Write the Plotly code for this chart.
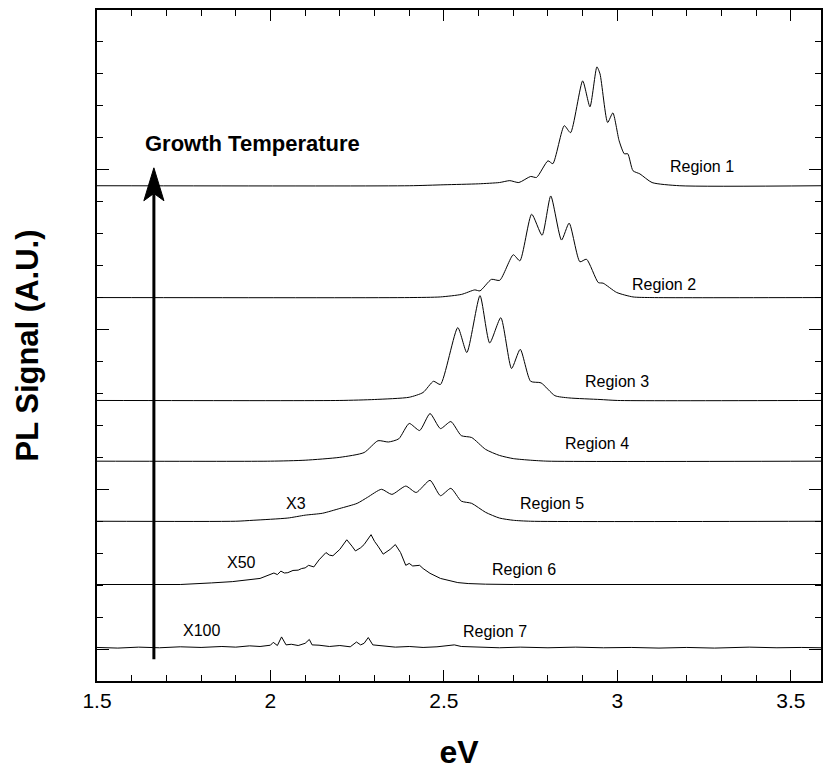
import plotly.graph_objects as go

# ---------------- data ----------------
# photon energy (eV) and PL signal above each trace's own baseline (arb. units)
r1_e = [1.50, 2.40, 2.50, 2.60, 2.66, 2.69, 2.716, 2.75, 2.767, 2.80, 2.814, 2.847, 2.865, 2.90, 2.921, 2.941, 2.95, 2.972, 2.987, 3.005, 3.02, 3.03, 3.045, 3.065, 3.10, 3.18, 3.587]
r1_s = [0.00, 0.00, 0.03, 0.06, 0.10, 0.16, 0.10, 0.29, 0.26, 0.78, 0.69, 1.88, 1.66, 3.28, 2.47, 3.72, 3.50, 1.98, 2.28, 1.41, 1.00, 1.00, 0.47, 0.37, 0.10, 0.00, 0.00]

r2_e = [1.50, 2.40, 2.49, 2.551, 2.589, 2.604, 2.637, 2.661, 2.70, 2.719, 2.753, 2.783, 2.808, 2.839, 2.861, 2.892, 2.911, 2.945, 2.959, 2.998, 3.045, 3.10, 3.587]
r2_s = [0.00, 0.00, 0.02, 0.10, 0.24, 0.21, 0.57, 0.54, 1.34, 1.15, 2.61, 1.95, 3.18, 1.80, 2.33, 1.12, 1.20, 0.47, 0.45, 0.16, 0.02, 0.00, 0.00]

r3_e = [1.50, 2.20, 2.30, 2.40, 2.44, 2.47, 2.49, 2.54, 2.566, 2.604, 2.632, 2.664, 2.695, 2.72, 2.75, 2.78, 2.82, 2.86, 2.95, 3.00, 3.587]
r3_s = [0.00, 0.00, 0.03, 0.10, 0.25, 0.60, 0.50, 2.28, 1.50, 3.28, 1.80, 2.59, 1.00, 1.60, 0.60, 0.55, 0.15, 0.08, 0.03, 0.00, 0.00]

r4_e = [1.50, 2.00, 2.10, 2.20, 2.27, 2.31, 2.34, 2.37, 2.40, 2.43, 2.46, 2.49, 2.52, 2.55, 2.58, 2.62, 2.66, 2.70, 2.75, 2.80, 3.587]
r4_s = [0.00, 0.00, 0.03, 0.12, 0.27, 0.64, 0.60, 0.70, 1.18, 0.96, 1.49, 1.02, 1.24, 0.80, 0.74, 0.37, 0.18, 0.08, 0.03, 0.00, 0.00]

r5_e = [1.50, 1.90, 1.95, 2.05, 2.10, 2.15, 2.20, 2.25, 2.28, 2.32, 2.35, 2.39, 2.42, 2.46, 2.49, 2.52, 2.55, 2.58, 2.62, 2.66, 2.70, 2.75, 3.587]
r5_s = [0.00, 0.00, 0.03, 0.10, 0.19, 0.25, 0.40, 0.56, 0.75, 1.00, 0.84, 1.10, 0.90, 1.28, 0.80, 1.03, 0.63, 0.56, 0.28, 0.10, 0.03, 0.00, 0.00]

r6_e = [1.50, 1.74, 1.83, 1.89, 1.97, 2.00, 2.01, 2.02, 2.03, 2.04, 2.05, 2.065, 2.08, 2.09, 2.10, 2.11, 2.125, 2.14, 2.16, 2.17, 2.18, 2.20, 2.22, 2.235, 2.245, 2.26, 2.27, 2.29, 2.30, 2.31, 2.325, 2.345, 2.36, 2.375, 2.39, 2.40, 2.41, 2.43, 2.44, 2.46, 2.49, 2.54, 2.57, 2.62, 2.70, 3.587]
r6_s = [0.00, 0.00, 0.05, 0.09, 0.19, 0.30, 0.36, 0.31, 0.42, 0.36, 0.37, 0.44, 0.45, 0.50, 0.52, 0.60, 0.55, 0.77, 1.00, 0.92, 0.90, 1.10, 1.40, 1.20, 1.05, 1.15, 1.25, 1.56, 1.35, 1.20, 0.95, 1.10, 1.25, 1.00, 0.60, 0.66, 0.58, 0.60, 0.50, 0.35, 0.19, 0.06, 0.03, 0.01, 0.00, 0.00]

r7_e = [1.50, 1.56, 1.62, 1.68, 1.74, 1.80, 1.86, 1.90, 1.94, 1.97, 2.00, 2.008, 2.02, 2.032, 2.045, 2.06, 2.08, 2.10, 2.112, 2.12, 2.14, 2.17, 2.20, 2.23, 2.248, 2.26, 2.27, 2.282, 2.295, 2.32, 2.36, 2.40, 2.44, 2.48, 2.517, 2.53, 2.55, 2.60, 2.66, 2.72, 2.80, 2.88, 2.96, 3.04, 3.12, 3.20, 3.28, 3.38, 3.46, 3.53, 3.587]
r7_s = [0.02, 0.00, 0.03, 0.01, 0.04, 0.02, 0.05, 0.03, 0.07, 0.05, 0.09, 0.18, 0.08, 0.35, 0.10, 0.12, 0.08, 0.15, 0.27, 0.10, 0.09, 0.05, 0.08, 0.04, 0.19, 0.10, 0.15, 0.33, 0.10, 0.07, 0.03, 0.05, 0.02, 0.04, 0.09, 0.10, 0.05, 0.03, 0.01, 0.03, 0.01, 0.03, 0.01, 0.02, 0.00, 0.02, 0.00, 0.03, 0.01, 0.02, 0.01]

region_names = ["Region 1", "Region 2", "Region 3", "Region 4", "Region 5", "Region 6", "Region 7"]
offsets = [15.5, 12.0, 8.78, 6.88, 5.0, 3.02, 1.03]
energies = [r1_e, r2_e, r3_e, r4_e, r5_e, r6_e, r7_e]
signals = [r1_s, r2_s, r3_s, r4_s, r5_s, r6_s, r7_s]

# label positions (eV, stacked signal)
label_x = [3.243, 3.133, 2.999, 2.94, 2.811, 2.730, 2.648]
label_y = [16.10, 12.42, 9.375, 7.447, 5.56, 3.49, 1.54]
scale_text = ["X3", "X50", "X100"]
scale_x = [2.073, 1.916, 1.802]
scale_y = [5.56, 3.72, 1.572]

x_ticks = [1.5, 2, 2.5, 3, 3.5]
x_tick_text = ["1.5", "2", "2.5", "3", "3.5"]

# growth-temperature arrow (eV position, bottom / tip of the arrow in signal units)
arrow_x = 1.664
arrow_bottom = 0.68
arrow_tip = 16.06

# ---------------- figure ----------------
fig = go.Figure()
for i, name in enumerate(region_names):
    smooth = i < 5
    fig.add_trace(go.Scatter(
        x=energies[i],
        y=[s + offsets[i] for s in signals[i]],
        mode="lines",
        name=name,
        line=dict(color="black", width=1, shape="spline" if smooth else "linear",
                  smoothing=0.6 if smooth else None),
        showlegend=False,
        hoverinfo="skip",
    ))

annos = []
for t, x, y in zip(region_names, label_x, label_y):
    annos.append(dict(x=x, y=y, text=t, showarrow=False,
                      font=dict(family="Arial", size=16, color="black")))
for t, x, y in zip(scale_text, scale_x, scale_y):
    annos.append(dict(x=x, y=y, text=t, showarrow=False,
                      font=dict(family="Arial", size=16, color="black")))
annos.append(dict(x=1.6326, y=16.81, text="<b>Growth Temperature</b>", showarrow=False,
                  xanchor="left", font=dict(family="Arial", size=22, color="black")))

# arrow: shaft + slim notched head
hw = 0.029   # half width of head in eV
shapes = [
    dict(type="line", xref="x", yref="y", x0=arrow_x, x1=arrow_x,
         y0=arrow_bottom, y1=arrow_tip - 0.8, line=dict(color="black", width=3)),
    dict(type="path", xref="x", yref="y",
         path=(f"M {arrow_x},{arrow_tip} L {arrow_x + hw},{arrow_tip - 1.03} "
               f"L {arrow_x},{arrow_tip - 0.8} L {arrow_x - hw},{arrow_tip - 1.03} Z"),
         fillcolor="black", line=dict(color="black", width=1)),
]

fig.update_layout(
    width=831, height=772,
    margin=dict(l=97, r=8, t=9, b=91),
    paper_bgcolor="white", plot_bgcolor="white",
    font=dict(family="Arial", color="black"),
    annotations=annos,
    shapes=shapes,
    xaxis=dict(
        range=[1.5, 3.587], tickvals=x_ticks, ticktext=x_tick_text,
        ticks="inside", ticklen=11, tickwidth=1, tickcolor="black",
        minor=dict(dtick=0.1, tick0=1.5, ticks="inside", ticklen=6, tickcolor="black"),
        showline=True, linecolor="black", linewidth=1.5, mirror="ticks",
        showgrid=False, zeroline=False,
        tickfont=dict(family="Arial", size=21, color="black"),
        title=dict(text="<b>eV</b>", font=dict(family="Arial", size=32, color="black"), standoff=30),
    ),
    yaxis=dict(
        range=[0, 21], tick0=1, dtick=5,
        ticks="inside", ticklen=12, tickwidth=1, tickcolor="black",
        minor=dict(dtick=1, tick0=0, ticks="inside", ticklen=6, tickcolor="black"),
        showline=True, linecolor="black", linewidth=1.5, mirror="ticks",
        showgrid=False, zeroline=False, showticklabels=False,
        title=dict(text="<b>PL Signal (A.U.)</b>", font=dict(family="Arial", size=31, color="black"), standoff=47),
    ),
)

fig.write_html("out.html", config={"displayModeBar": False},
               post_script="document.body.style.margin='0';")
